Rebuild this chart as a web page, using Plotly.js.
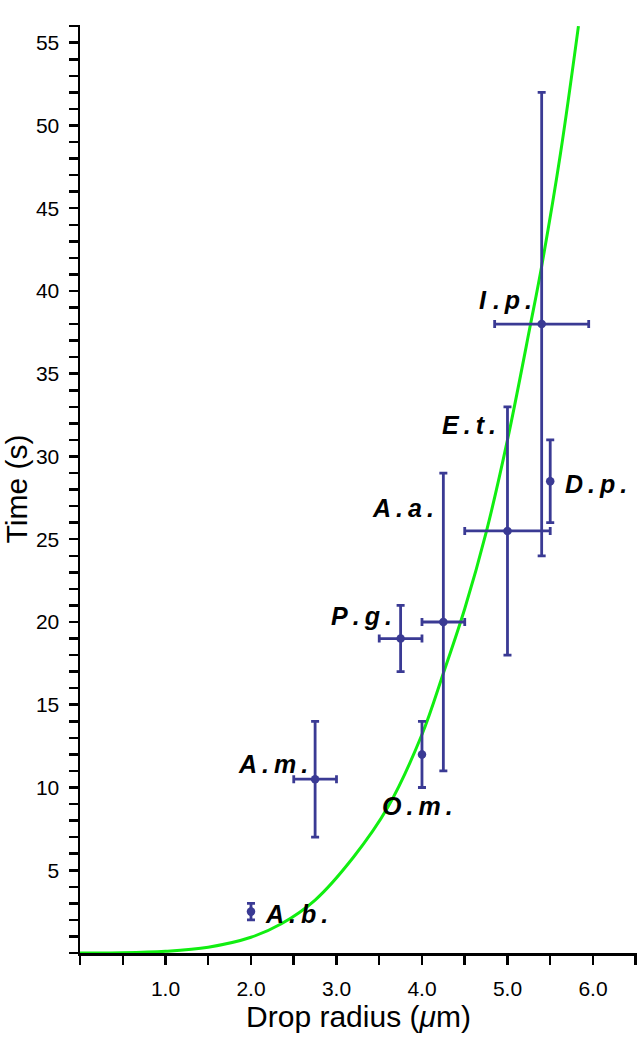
<!DOCTYPE html>
<html>
<head>
<meta charset="utf-8">
<script src="https://cdn.plot.ly/plotly-3.0.1.min.js"></script>
<style>html,body{margin:0;padding:0;background:#fff;}#chart{width:637px;height:1050px;}</style>
</head>
<body>
<div id="chart"></div>
<script>
// Species data
const species   = ['A.b.', 'A.m.', 'O.m.', 'P.g.', 'A.a.', 'E.t.', 'D.p.', 'I .p.'];
const radius    = [2.0, 2.75, 4.0, 3.75, 4.25, 5.0, 5.5, 5.4];
const radiusErr = [null, 0.25, null, 0.25, 0.25, 0.5, null, 0.55];
const time      = [2.5, 10.5, 12, 19, 20, 25.5, 28.5, 38];
const timeErr   = [0.5, 3.5, 2, 2, 9, 7.5, 2.5, 14];

// Green fitted curve
const curveR = [0, 0.5, 1.0, 1.5, 2.0, 2.35, 2.75, 3.2, 3.6, 4.0, 4.25, 4.5, 4.75, 5.0, 5.27, 5.4, 5.62, 5.83];
const curveT = [0, 0.01, 0.1, 0.35, 0.95, 1.75, 3.2, 5.8, 8.8, 13.2, 16.9, 20.8, 25.4, 31.0, 38.0, 41.5, 48.3, 56.0];

// Axis ticks
const xTickVals = [1, 2, 3, 4, 5, 6];
const xTickText = ['1.0', '2.0', '3.0', '4.0', '5.0', '6.0'];
const yTickVals = [5, 10, 15, 20, 25, 30, 35, 40, 45, 50, 55];

// label placement (pixel offsets from each point, anchors)
const labelStyle = [
  {xanchor: 'left',  xshift: 12,  yshift: -2},
  {xanchor: 'right', xshift: -5,  yshift: 15},
  {xanchor: 'left',  xshift: -42, yshift: -52},
  {xanchor: 'right', xshift: -7,  yshift: 23},
  {xanchor: 'right', xshift: -7,  yshift: 114},
  {xanchor: 'right', xshift: -9,  yshift: 106},
  {xanchor: 'left',  xshift: 13,  yshift: -3},
  {xanchor: 'right', xshift: -8,  yshift: 24}
];

const BLUE = '#3a3a94';
const GREEN = '#11ee11';
const FONT = 'Liberation Sans, Arial, sans-serif';

function spaced(s) {
  return s.split('').join('\u2009').replace('\u2009 \u2009', ' ');
}

const traces = [
  {
    x: curveR, y: curveT, type: 'scatter', mode: 'lines',
    line: {color: GREEN, width: 3, shape: 'spline', smoothing: 1},
    hoverinfo: 'skip', cliponaxis: true
  },
  {
    x: radius, y: time, type: 'scatter', mode: 'markers',
    marker: {color: BLUE, size: 8.5},
    error_y: {type: 'data', array: timeErr, visible: true, color: BLUE, thickness: 2.8, width: 4},
    error_x: {type: 'data', array: radiusErr, visible: true, color: BLUE, thickness: 2.8, width: 4},
    cliponaxis: false
  }
];

const annotations = species.map((s, i) => ({
  x: radius[i], y: time[i], xref: 'x', yref: 'y',
  text: '<b><i>' + spaced(s) + '</i></b>',
  showarrow: false,
  xanchor: labelStyle[i].xanchor, yanchor: 'middle',
  xshift: labelStyle[i].xshift, yshift: labelStyle[i].yshift,
  font: {family: FONT, size: 25, color: '#000'}
}));

const axisCommon = {
  showline: true, linecolor: '#000', linewidth: 2.5,
  ticks: 'outside', ticklen: 9, tickwidth: 2.5, tickcolor: '#000',
  showgrid: false, zeroline: false,
  tickfont: {family: FONT, size: 21, color: '#000'},
  tickmode: 'array', fixedrange: true
};

const layout = {
  width: 637, height: 1050,
  margin: {l: 80, r: 0, t: 25, b: 97},
  paper_bgcolor: '#fff', plot_bgcolor: '#fff',
  showlegend: false,
  xaxis: Object.assign({}, axisCommon, {
    range: [0, 6.515],
    tickvals: xTickVals, ticktext: xTickText,
    ticklabelstandoff: 6,
    minor: {tickmode: 'linear', tick0: 0, dtick: 0.5, ticks: 'outside', ticklen: 9, tickwidth: 2.5, tickcolor: '#000', showgrid: false},
    title: {text: 'Drop radius (<i>μ</i>m)', font: {family: FONT, size: 30, color: '#000'}, standoff: 4}
  }),
  yaxis: Object.assign({}, axisCommon, {
    range: [0, 56.07],
    tickvals: yTickVals,
    ticklabelstandoff: 5,
    minor: {tickmode: 'linear', tick0: 0, dtick: 1, ticks: 'outside', ticklen: 9, tickwidth: 2.5, tickcolor: '#000', showgrid: false},
    title: {text: 'Time (s)', font: {family: FONT, size: 30, color: '#000'}, standoff: 14}
  }),
  annotations: annotations
};

Plotly.newPlot('chart', traces, layout, {displayModeBar: false, staticPlot: true});
</script>
</body>
</html>
